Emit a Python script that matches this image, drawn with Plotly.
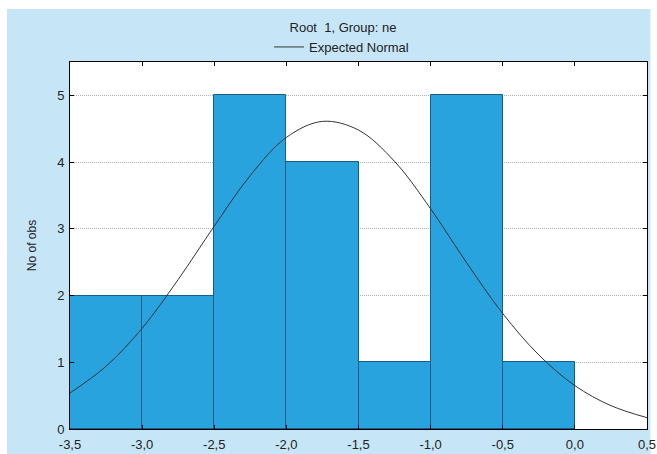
import plotly.graph_objects as go

# Histogram bins (centers), counts
bin_centers = [-3.25, -2.75, -2.25, -1.75, -1.25, -0.75, -0.25]
counts = [2, 2, 5, 4, 1, 5, 1]

# Expected normal curve
curve_x = [-3.5, -3.25, -3.0, -2.75, -2.5, -2.25, -2.0, -1.75, -1.5,
           -1.25, -1.0, -0.75, -0.5, -0.25, 0.0, 0.25, 0.5]
curve_y = [0.54, 0.94, 1.51, 2.24, 3.04, 3.80, 4.37, 4.61, 4.48,
           4.01, 3.30, 2.49, 1.73, 1.11, 0.65, 0.35, 0.17]

x_tick_vals = [-3.5, -3.0, -2.5, -2.0, -1.5, -1.0, -0.5, 0.0, 0.5]
x_tick_text = ["-3,5", "-3,0", "-2,5", "-2,0", "-1,5", "-1,0", "-0,5", "0,0", "0,5"]
y_tick_vals = [0, 1, 2, 3, 4, 5]

W, H = 657, 454
L, R, T, B = 70, 10, 62, 25
pw, ph = W - L - R, H - T - B

def px_x(p):
    return (p - L) / pw

def px_y(p):
    return (H - B - p) / ph

fig = go.Figure()
fig.add_trace(go.Bar(
    x=bin_centers, y=counts, width=0.5,
    marker=dict(color="#29A3DE", line=dict(color="#1C5A87", width=1)),
    showlegend=False, hoverinfo="skip",
))
fig.add_trace(go.Scatter(
    x=curve_x, y=curve_y, mode="lines", line_shape="spline",
    line=dict(color="#333333", width=1),
    name="Expected Normal",
))

font = "Liberation Sans, Arial, sans-serif"

fig.update_layout(
    width=W, height=H,
    margin=dict(l=L, r=R, t=T, b=B, pad=0, autoexpand=False),
    paper_bgcolor="white",
    plot_bgcolor="rgba(0,0,0,0)",
    font=dict(family=font, size=12, color="#222222"),
    title=dict(text="Root  1, Group: ne", x=343 / W, xanchor="center",
               y=1 - 27 / H, yanchor="middle", yref="container",
               font=dict(size=13, family=font, color="#222222")),
    legend=dict(orientation="h", x=px_x(341.5), xanchor="center",
                y=px_y(47), yanchor="middle",
                bgcolor="rgba(0,0,0,0)", font=dict(size=13),
                itemwidth=30),
    bargap=0,
    shapes=[
        dict(type="rect", xref="paper", yref="paper",
             x0=px_x(7), x1=px_x(650.5), y0=px_y(470), y1=px_y(9),
             fillcolor="#C6E6F7", line=dict(width=0), layer="below"),
        dict(type="rect", xref="paper", yref="paper",
             x0=0, x1=1, y0=0, y1=1,
             fillcolor="white", line=dict(width=0), layer="below"),
    ],
)
fig.update_xaxes(
    range=[-3.5, 0.5], tickvals=x_tick_vals, ticktext=x_tick_text,
    ticks="inside", ticklen=4, tickcolor="black",
    showline=True, linecolor="black", linewidth=1, mirror="ticks",
    showgrid=False, zeroline=False, tickfont=dict(size=13),
    ticklabelstandoff=3,
    automargin=False,
)
fig.update_yaxes(
    range=[0, 5.5], tickvals=y_tick_vals,
    ticks="inside", ticklen=4, tickcolor="black",
    showline=True, linecolor="black", linewidth=1, mirror="ticks",
    showgrid=True, gridcolor="#B0B0B0", griddash="1px,1px", gridwidth=1,
    zeroline=False, tickfont=dict(size=13),
    ticklabelstandoff=2,
    title=dict(text="No of obs", font=dict(size=12), standoff=17),
    automargin=False,
)

fig.write_html("out.html", config={"displayModeBar": False})

# remove the browser's default body margin so the figure sits at the window's origin
with open("out.html", "r", encoding="utf-8") as f:
    html = f.read()
html = html.replace("<body>", '<body style="margin:0;padding:0;">', 1)
with open("out.html", "w", encoding="utf-8") as f:
    f.write(html)
